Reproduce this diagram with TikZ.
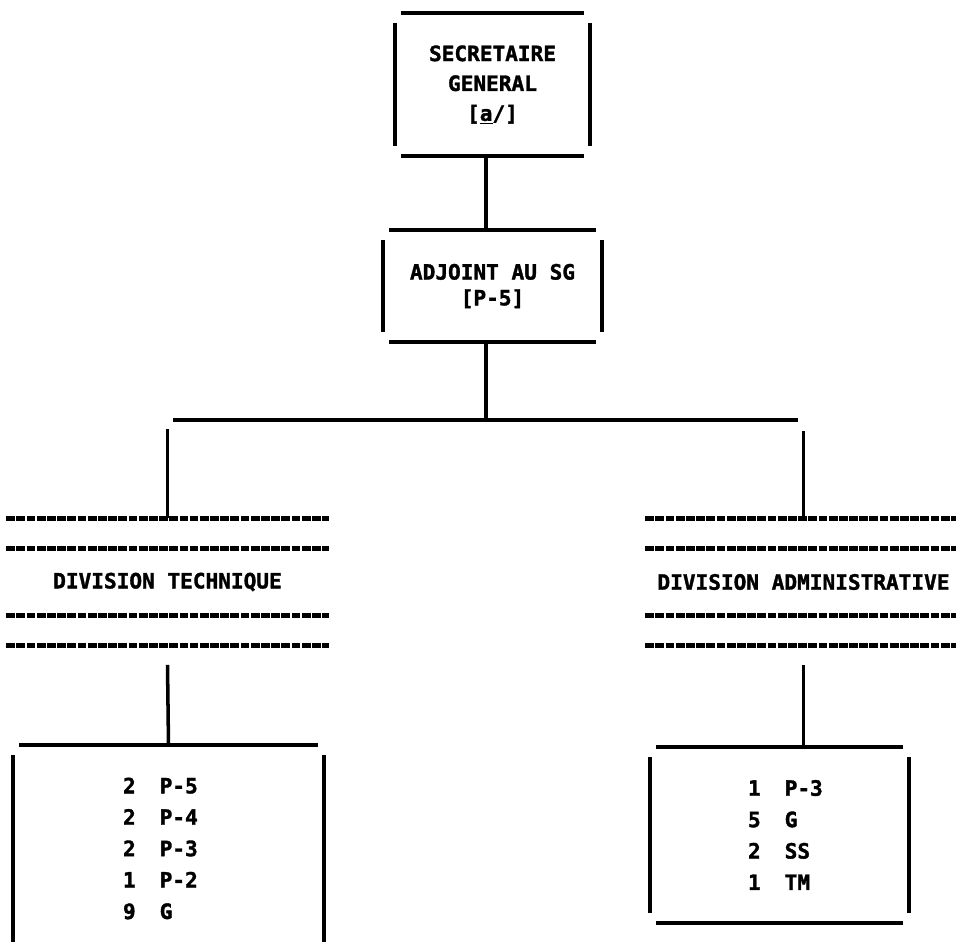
\documentclass[tikz,border=0pt]{standalone}
\usepackage{fontspec}
\newfontfamily\orgfont{DejaVu Sans Mono}[BoldFeatures={FakeBold=1.6}]
\usetikzlibrary{calc}
\newcommand{\brkx}{0.18cm}
\newcommand{\brky}{0.3cm}
\newcommand{\hdgap}{0.9cm}
\newcommand{\rowgap}{0.72cm}
\newcommand{\brkbox}[1]{%
  \draw ([xshift=\brkx]#1.north west) -- ([xshift=-\brkx]#1.north east);
  \draw ([xshift=\brkx]#1.south west) -- ([xshift=-\brkx]#1.south east);
  \draw ([yshift=-\brky]#1.north west) -- ([yshift=\brky]#1.south west);
  \draw ([yshift=-\brky]#1.north east) -- ([yshift=\brky]#1.south east);}
\newcommand{\dashhead}[1]{%
  \draw[hdline] (#1.north west) -- (#1.north east);
  \draw[hdline] ([yshift=-\hdgap]#1.north west)
    -- ([yshift=-\hdgap]#1.north east);
  \draw[hdline] ([yshift=\hdgap]#1.south west)
    -- ([yshift=\hdgap]#1.south east);
  \draw[hdline] (#1.south west) -- (#1.south east);}
\newcommand{\staffrow}[3]{\hspace*{#1}#2\hspace{\rowgap}#3}

\begin{document}
\begin{tikzpicture}[x=0.03cm,y=-0.03cm,line width=3pt,
    frame/.style={inner sep=0pt,
      font=\orgfont\bfseries\fontsize{18}{25.5}\selectfont},
    hdline/.style={line width=4pt,dash pattern=on 7.5pt off 1.2pt}]
    \useasboundingbox (0,0) rectangle (956,942);
    \clip (0,0) rectangle (956,942);

    \node[frame,align=center,minimum width=5.73cm,minimum height=4.17cm]
      (sg) at (492.5,84.5) {SECRETAIRE\\GENERAL\\{[}\underline{a}/{]}};
    \node[frame,align=center,minimum width=6.45cm,minimum height=3.24cm,
      font=\orgfont\bfseries\fontsize{18}{22}\selectfont]
      (adj) at (492.5,286) {ADJOINT AU SG\\{[}P-5{]}};

    \node[frame,minimum width=9.57cm,minimum height=3.72cm]
      (tech) at (167.5,582) {DIVISION TECHNIQUE};
    \node[frame,minimum width=9.39cm,minimum height=3.72cm]
      (adm) at (803.5,582) {DIVISION ADMINISTRATIVE};

    \node[frame,text width=9.21cm,align=left,minimum height=6.09cm,
      font=\orgfont\bfseries\fontsize{18}{26.8}\selectfont]
      (techstaff) at (168.5,848.5) {%
        \staffrow{3.24cm}{2}{P-5}\\
        \staffrow{3.24cm}{2}{P-4}\\
        \staffrow{3.24cm}{2}{P-3}\\
        \staffrow{3.24cm}{1}{P-2}\\
        \staffrow{3.24cm}{9}{G}};
    \node[frame,text width=7.65cm,align=left,minimum height=5.16cm,
      font=\orgfont\bfseries\fontsize{18}{26.8}\selectfont]
      (admstaff) at (779.5,835) {%
        \staffrow{2.88cm}{1}{P-3}\\
        \staffrow{2.88cm}{5}{G}\\
        \staffrow{2.88cm}{2}{SS}\\
        \staffrow{2.88cm}{1}{TM}};

    % connectors
    \coordinate (junc) at (486,420);
    \coordinate (barl) at (173,420);
    \coordinate (barr) at (798,420);
    \draw (sg.south -| junc) -- (adj.north -| junc);
    \draw (adj.south -| junc) -- (junc);
    \draw (barl) -- (barr);
    \draw ($(barl -| tech.north)+(0,9)$) -- (tech.north);
    \draw ($(barr -| adm.north)+(0,11)$) -- (adm.north);
    \draw ($(tech.south)+(0,19)$) -- (techstaff.north);
    \draw ($(adm.south)+(0,19)$) -- (adm.south |- admstaff.north);

    % frames
    \brkbox{sg}
    \brkbox{adj}
    \brkbox{techstaff}
    \brkbox{admstaff}
    \dashhead{tech}
    \dashhead{adm}
  \end{tikzpicture}
\end{document}
